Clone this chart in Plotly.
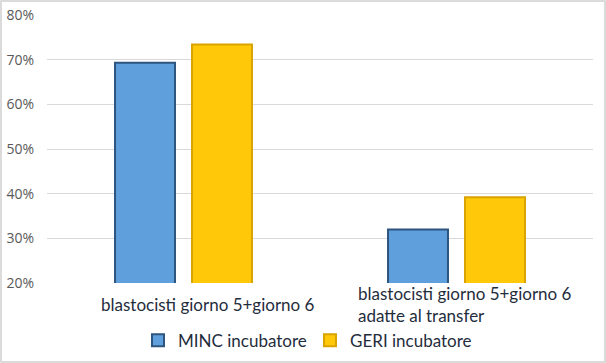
import plotly.graph_objects as go

categories = ["blastocisti giorno 5+giorno 6", "blastocisti giorno 5+giorno 6<br>adatte al transfer"]
series_names = ["MINC incubatore", "GERI incubatore"]
minc_values = [0.693, 0.320]
geri_values = [0.734, 0.392]
tick_vals = [0.2, 0.3, 0.4, 0.5, 0.6, 0.7, 0.8]
tick_text = ["20%", "30%", "40%", "50%", "60%", "70%", "80%"]

W, H = 606, 363
ml, mr, mt, mb = 47, 13, 15, 80

fig = go.Figure()
fig.add_trace(go.Bar(
    name=series_names[0], x=categories, y=minc_values,
    marker=dict(color="#5e9fdc", line=dict(color="#2d557f", width=2)),
))
fig.add_trace(go.Bar(
    name=series_names[1], x=categories, y=geri_values,
    marker=dict(color="#ffc90a", line=dict(color="#d9a300", width=2)),
))

label_xshift = [24, 8]
for c, xs in zip(categories, label_xshift):
    fig.add_annotation(
        x=c, y=0, xref="x", yref="paper", yanchor="middle", xanchor="center",
        text=c, showarrow=False, align="left", yshift=-21, xshift=xs,
        font=dict(family="Lato", size=17, color="#1f2d3d"),
    )

# outer border
pw = W - ml - mr
ph = H - mt - mb
fig.add_shape(type="rect", xref="paper", yref="paper",
              x0=-(ml - 1) / pw, x1=1 + (mr - 1) / pw,
              y0=-(mb - 1) / ph, y1=1 + (mt - 1) / ph,
              line=dict(color="#d0d0d0", width=1.5))

fig.update_layout(
    width=W, height=H,
    margin=dict(l=ml, r=mr, t=mt, b=mb, autoexpand=False),
    paper_bgcolor="white", plot_bgcolor="white",
    barmode="group", bargap=0.436, bargroupgap=0.221,
    showlegend=True,
    legend=dict(orientation="h", x=(138 - ml) / pw, xanchor="left", y=-0.215, yanchor="middle",
                font=dict(family="Lato", size=17, color="#1f2d3d"),
                itemwidth=30, entrywidth=127, traceorder="normal"),
    xaxis=dict(showticklabels=False, showgrid=False, showline=False, zeroline=False,
               automargin=False),
    yaxis=dict(range=[0.2, 0.8], tickvals=tick_vals, ticktext=tick_text,
               showgrid=True, gridcolor="#d9d9d9", gridwidth=1, zeroline=False,
               showline=False, ticks="", ticklabelstandoff=12, automargin=False,
               tickfont=dict(family="Open Sans", size=14, color="#595959")),
)

fig.write_html("out.html", post_script="document.body.style.margin='0';",
               config={"displayModeBar": False})
